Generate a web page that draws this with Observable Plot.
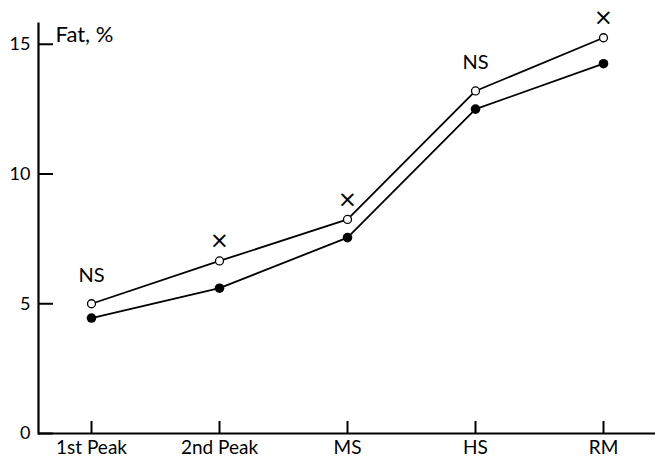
<!DOCTYPE html>
<html>
<head>
<meta charset="utf-8">
<script src="https://cdn.jsdelivr.net/npm/d3@7"></script>
<script src="https://cdn.jsdelivr.net/npm/@observablehq/plot@0.6"></script>
<style>
  html, body { margin: 0; padding: 0; background: #fff; }
  #chart svg { display: block; }
</style>
</head>
<body>
<div id="chart"></div>
<script>
const categories = ["1st Peak", "2nd Peak", "MS", "HS", "RM"];
const openValues = [5.0, 6.65, 8.25, 13.2, 15.25];
const filledValues = [4.45, 5.6, 7.55, 12.5, 14.25];
const significance = ["NS", "×", "×", "NS", "×"];
const yTicks = [0, 5, 10, 15];
const yLabel = "Fat, %";

const openData = categories.map((c, i) => ({cat: c, v: openValues[i], s: significance[i]}));
const filledData = categories.map((c, i) => ({cat: c, v: filledValues[i]}));

const font = "Lato, 'Open Sans', sans-serif";

const chart = Plot.plot({
  width: 655,
  height: 460,
  marginLeft: 38,
  marginRight: 0,
  marginTop: 23,
  marginBottom: 27,
  style: {fontFamily: font, fontSize: "18px", color: "#000", background: "#fff"},
  x: {type: "point", domain: categories, padding: 0.4},
  y: {domain: [0, 15.8]},
  marks: [
    Plot.axisY({ticks: yTicks, tickSize: 0, tickPadding: 8, label: null, fontSize: 18}),
    Plot.axisY({ticks: yTicks, tickSize: 15, dx: 15, tickFormat: () => "", label: null, stroke: "#000", strokeWidth: 2}),
    Plot.axisX({tickSize: -12, tickPadding: 19, strokeWidth: 2, label: null, fontSize: 19}),
    Plot.frame({anchor: "left", strokeWidth: 2.2}),
    Plot.ruleY([0], {strokeWidth: 2.2}),
    Plot.text([yLabel], {frameAnchor: "top-left", dx: 17, dy: 3, textAnchor: "start", fontSize: 22}),
    Plot.line(openData, {x: "cat", y: "v", stroke: "#000", strokeWidth: 1.8}),
    Plot.line(filledData, {x: "cat", y: "v", stroke: "#000", strokeWidth: 1.8}),
    Plot.dot(openData, {x: "cat", y: "v", r: 4, fill: "#fff", stroke: "#000", strokeWidth: 1.3}),
    Plot.dot(filledData, {x: "cat", y: "v", r: 4.8, fill: "#000", stroke: "none"}),
    Plot.text(openData.filter(d => d.s === "NS"), {x: "cat", y: "v", text: "s", dy: -28, fontSize: 20}),
    Plot.text(openData.filter(d => d.s !== "NS"), {x: "cat", y: "v", text: "s", dy: -20, fontSize: 23, fontFamily: "'DejaVu Sans', sans-serif"})
  ]
});
document.getElementById("chart").appendChild(chart);
</script>
</body>
</html>
